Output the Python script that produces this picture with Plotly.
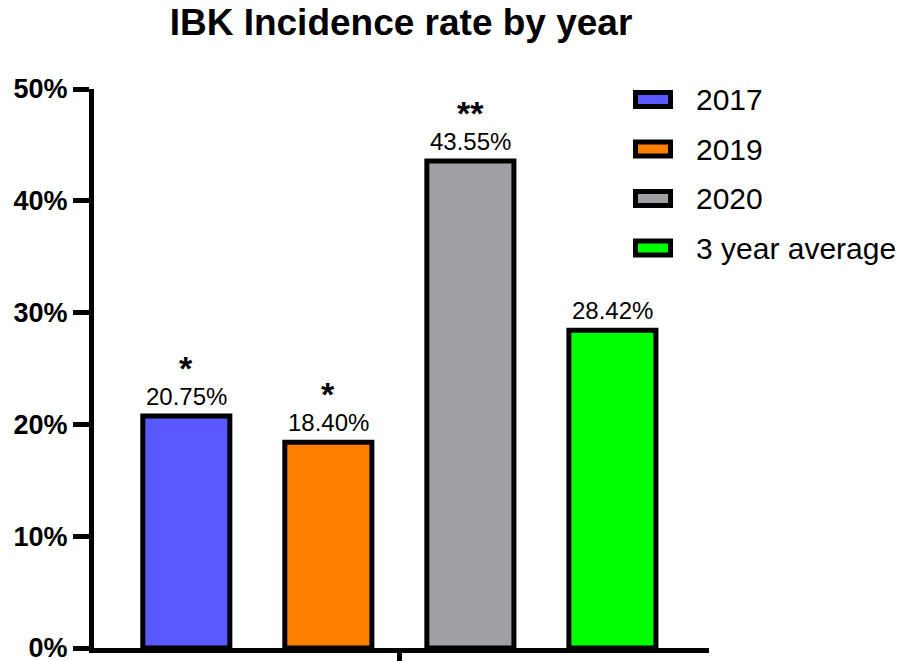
import plotly.graph_objects as go

# ---- data ----
categories = ["2017", "2019", "2020", "3 year average"]
values = [20.75, 18.40, 43.55, 28.42]          # percent
value_labels = ["20.75%", "18.40%", "43.55%", "28.42%"]
stars = ["*", "*", "**", ""]
colors = ["#5959FF", "#FF8000", "#A09FA4", "#00FF00"]
y_ticks = [0, 10, 20, 30, 40, 50]
y_tick_labels = ["0%", "10%", "20%", "30%", "40%", "50%"]

W, H = 907, 661
L, R, T, B = 94, 198, 89, 13
PW, PH = W - L - R, H - T - B
FONT = "Arial, Liberation Sans, sans-serif"


def px_x(x):
    return (x - L) / PW


def px_y(y):
    return (H - B - y) / PH


fig = go.Figure()
for i, (cat, v, c) in enumerate(zip(categories, values, colors)):
    fig.add_trace(go.Bar(
        x=[i], y=[v], name=cat, width=0.613,
        marker=dict(color=c, line=dict(color="black", width=5)),
        showlegend=False,
    ))

annotations = []
for i, (v, lab, st) in enumerate(zip(values, value_labels, stars)):
    annotations.append(dict(x=i, y=v, xref="x", yref="y", text=lab, showarrow=False,
                            yanchor="middle", yshift=20,
                            font=dict(family=FONT, size=24, color="black")))
    if st:
        annotations.append(dict(x=i, y=v, xref="x", yref="y", text=st, showarrow=False,
                                yanchor="middle", yshift=48,
                                font=dict(family=FONT, size=34, color="black", weight="bold")))

# custom legend
shapes = []
row_y = [99.5, 149, 198.5, 248]
for cat, c, ry in zip(categories, colors, row_y):
    shapes.append(dict(type="rect", xref="paper", yref="paper",
                       x0=px_x(635.5), x1=px_x(670.5), y0=px_y(ry - 7), y1=px_y(ry + 7),
                       fillcolor=c, line=dict(color="black", width=5)))
    annotations.append(dict(x=px_x(694), y=px_y(ry), xref="paper", yref="paper",
                            text=cat, showarrow=False, xanchor="left", yanchor="middle",
                            font=dict(family=FONT, size=30, color="black")))

fig.update_layout(
    width=W, height=H,
    margin=dict(l=L, r=R, t=T, b=B, pad=0, autoexpand=False),
    paper_bgcolor="white", plot_bgcolor="white",
    barmode="overlay",
    title=dict(text="IBK Incidence rate by year", x=401 / W, xref="container", xanchor="center",
               y=1 - 22 / H, yref="container", yanchor="middle",
               font=dict(family=FONT, size=37, color="black", weight="bold")),
    xaxis=dict(range=[-0.65, 3.68], tickvals=[1.5], ticktext=[""], ticks="outside",
               ticklen=12, tickwidth=5, tickcolor="black", showline=True, linewidth=5,
               linecolor="black", showgrid=False, zeroline=False, fixedrange=True,
               automargin=False),
    yaxis=dict(range=[0, 50], tickvals=y_ticks, ticktext=y_tick_labels, ticks="outside",
               ticklen=16, tickwidth=5, tickcolor="black", showline=True, linewidth=5,
               linecolor="black", showgrid=False, zeroline=False, automargin=False,
               ticklabeloverflow="allow",
               tickfont=dict(family=FONT, size=27, color="black", weight="bold")),
    annotations=annotations, shapes=shapes, showlegend=False,
)

fig.write_html("out.html")
